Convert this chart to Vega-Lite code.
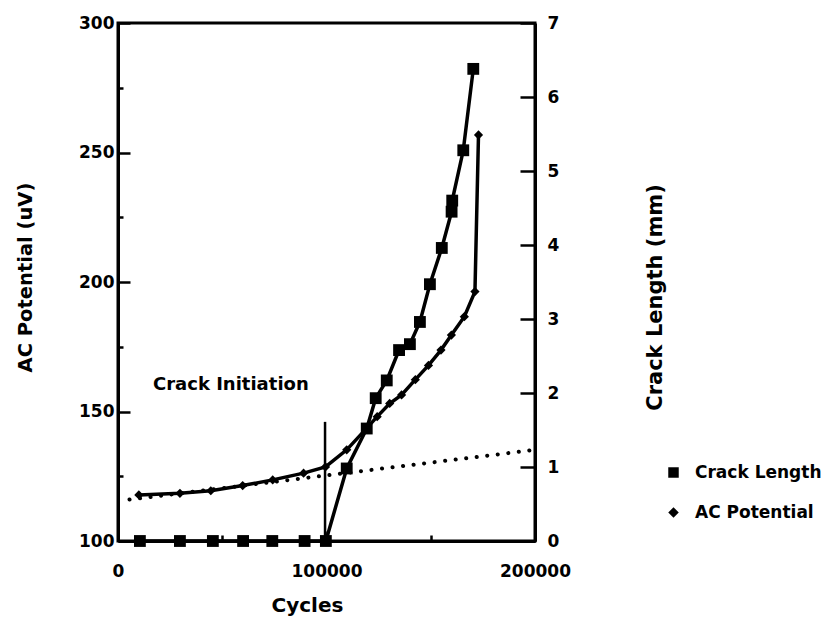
{
  "$schema": "https://vega.github.io/schema/vega-lite/v6.json",
  "width": 417,
  "height": 518,
  "autosize": {"type": "none"},
  "padding": {"left": 118, "top": 23, "right": 303, "bottom": 77},
  "background": "white",
  "config": {
    "view": {"stroke": "black", "strokeWidth": 3},
    "font": "DejaVu Sans",
    "axis": {
      "grid": false,
      "domainColor": "black",
      "domainWidth": 3,
      "tickColor": "black",
      "tickWidth": 2.5,
      "labelFont": "DejaVu Sans",
      "labelFontWeight": "bold",
      "labelFontSize": 17,
      "labelColor": "black",
      "titleFont": "DejaVu Sans",
      "titleFontWeight": "bold",
      "titleColor": "black"
    },
    "legend": {
      "labelFont": "DejaVu Sans",
      "labelFontWeight": "bold",
      "labelFontSize": 17,
      "labelColor": "black"
    }
  },
  "datasets": {
    "ac": [
      {"cycles": 10000, "v": 117.8, "series": "AC Potential"},
      {"cycles": 29700, "v": 118.4, "series": "AC Potential"},
      {"cycles": 44500, "v": 119.4, "series": "AC Potential"},
      {"cycles": 59800, "v": 121.4, "series": "AC Potential"},
      {"cycles": 74200, "v": 123.6, "series": "AC Potential"},
      {"cycles": 89000, "v": 126.2, "series": "AC Potential"},
      {"cycles": 99500, "v": 128.6, "series": "AC Potential"},
      {"cycles": 109700, "v": 135.2, "series": "AC Potential"},
      {"cycles": 119300, "v": 143.6, "series": "AC Potential"},
      {"cycles": 124300, "v": 148.0, "series": "AC Potential"},
      {"cycles": 130300, "v": 153.1, "series": "AC Potential"},
      {"cycles": 136000, "v": 156.4, "series": "AC Potential"},
      {"cycles": 142600, "v": 162.3, "series": "AC Potential"},
      {"cycles": 148900, "v": 167.8, "series": "AC Potential"},
      {"cycles": 154900, "v": 173.7, "series": "AC Potential"},
      {"cycles": 159900, "v": 179.5, "series": "AC Potential"},
      {"cycles": 166100, "v": 186.6, "series": "AC Potential"},
      {"cycles": 171200, "v": 196.3, "series": "AC Potential"},
      {"cycles": 172900, "v": 256.8, "series": "AC Potential"}
    ],
    "crack": [
      {"cycles": 10500, "len": 0, "series": "Crack Length"},
      {"cycles": 29700, "len": 0, "series": "Crack Length"},
      {"cycles": 45500, "len": 0, "series": "Crack Length"},
      {"cycles": 60000, "len": 0, "series": "Crack Length"},
      {"cycles": 74000, "len": 0, "series": "Crack Length"},
      {"cycles": 89500, "len": 0, "series": "Crack Length"},
      {"cycles": 99700, "len": 0, "series": "Crack Length"},
      {"cycles": 109700, "len": 0.98, "series": "Crack Length"},
      {"cycles": 119300, "len": 1.52, "series": "Crack Length"},
      {"cycles": 123600, "len": 1.93, "series": "Crack Length"},
      {"cycles": 128900, "len": 2.17, "series": "Crack Length"},
      {"cycles": 134800, "len": 2.58, "series": "Crack Length"},
      {"cycles": 140000, "len": 2.66, "series": "Crack Length"},
      {"cycles": 144800, "len": 2.96, "series": "Crack Length"},
      {"cycles": 149600, "len": 3.47, "series": "Crack Length"},
      {"cycles": 155300, "len": 3.96, "series": "Crack Length"},
      {"cycles": 160000, "len": 4.45, "series": "Crack Length"},
      {"cycles": 160300, "len": 4.6, "series": "Crack Length"},
      {"cycles": 165600, "len": 5.28, "series": "Crack Length"},
      {"cycles": 170400, "len": 6.38, "series": "Crack Length"}
    ],
    "trend": [
      {"cycles": 5500, "v": 116.0},
      {"cycles": 200000, "v": 135.2}
    ],
    "init": [
      {"cycles": 99300, "v": 100, "v2": 146}
    ],
    "note": [
      {"cycles": 16800, "v": 160.2, "text": "Crack Initiation"}
    ]
  },
  "layer": [
    {
      "layer": [
        {
          "data": {"name": "trend"},
          "mark": {"type": "line", "color": "black", "strokeWidth": 4, "strokeDash": [0.1, 10.5], "strokeCap": "round"},
          "encoding": {
            "x": {"field": "cycles", "type": "quantitative"},
            "y": {"field": "v", "type": "quantitative"}
          }
        },
        {
          "data": {"name": "init"},
          "mark": {"type": "rule", "color": "black", "strokeWidth": 2.5},
          "encoding": {
            "x": {"field": "cycles", "type": "quantitative"},
            "y": {"field": "v", "type": "quantitative"},
            "y2": {"field": "v2"}
          }
        },
        {
          "data": {"name": "note"},
          "mark": {"type": "text", "font": "DejaVu Sans", "fontWeight": "bold", "fontSize": 18, "align": "left", "baseline": "middle", "color": "black"},
          "encoding": {
            "x": {"field": "cycles", "type": "quantitative"},
            "y": {"field": "v", "type": "quantitative"},
            "text": {"field": "text"}
          }
        },
        {
          "data": {"name": "ac"},
          "mark": {"type": "line", "color": "black", "strokeWidth": 3.5},
          "encoding": {
            "x": {"field": "cycles", "type": "quantitative"},
            "y": {"field": "v", "type": "quantitative"}
          }
        },
        {
          "data": {"name": "ac"},
          "mark": {"type": "point", "filled": true, "color": "black", "opacity": 1, "size": 85},
          "encoding": {
            "x": {"field": "cycles", "type": "quantitative"},
            "y": {"field": "v", "type": "quantitative"},
            "shape": {
              "field": "series", "type": "nominal",
              "scale": {"domain": ["Crack Length", "AC Potential"], "range": ["square", "diamond"]},
              "legend": {
                "title": null,
                "orient": "none",
                "legendX": 547,
                "legendY": 441,
                "padding": 0,
                "symbolSize": 110,
                "labelOffset": 13,
                "rowPadding": 22,
                "encode": {
                  "symbols": {"update": {"fill": {"value": "black"}, "stroke": {"value": "black"}, "fillOpacity": {"value": 1}, "opacity": {"value": 1}}}
                }
              }
            }
          }
        }
      ],
      "encoding": {
        "x": {
          "field": "cycles", "type": "quantitative",
          "scale": {"domain": [0, 200000], "nice": false, "zero": false},
          "axis": {
            "title": "Cycles",
            "titleFontSize": 20,
            "titleX": 189,
            "titleY": 64,
            "titleBaseline": "middle",
            "values": [0, 50000, 100000, 150000, 200000],
            "format": "d",
            "labelExpr": "datum.value % 100000 === 0 ? datum.label : ''",
            "tickSize": {"condition": {"test": "datum.value % 100000 === 0", "value": -10}, "value": -6},
            "labelPadding": 32,
            "labelFlush": false,
            "labelOverlap": false
          }
        },
        "y": {
          "field": "v", "type": "quantitative",
          "scale": {"domain": [100, 300], "nice": false, "zero": false},
          "axis": {
            "title": "AC Potential (uV)",
            "titleFontSize": 19.5,
            "titleX": -93,
            "titleY": 254,
            "titleAngle": -90,
            "titleAlign": "center",
            "titleBaseline": "middle",
            "values": [100, 125, 150, 175, 200, 225, 250, 275, 300],
            "labelExpr": "datum.value % 50 === 0 ? datum.label : ''",
            "tickSize": {"condition": {"test": "datum.value % 50 === 0", "value": -12}, "value": -5},
            "labelPadding": 16,
            "labelOverlap": false,
            "labelFlush": false
          }
        }
      }
    },
    {
      "layer": [
        {
          "data": {"name": "crack"},
          "mark": {"type": "line", "color": "black", "strokeWidth": 3.5},
          "encoding": {
            "x": {"field": "cycles", "type": "quantitative"},
            "y": {"field": "len", "type": "quantitative"}
          }
        },
        {
          "data": {"name": "crack"},
          "mark": {"type": "point", "filled": true, "color": "black", "opacity": 1, "size": 140},
          "encoding": {
            "x": {"field": "cycles", "type": "quantitative"},
            "y": {"field": "len", "type": "quantitative"},
            "shape": {"field": "series", "type": "nominal"}
          }
        }
      ],
      "encoding": {
        "x": {
          "field": "cycles", "type": "quantitative",
          "axis": {
            "title": "Cycles",
            "titleFontSize": 20,
            "titleX": 189,
            "titleY": 64,
            "titleBaseline": "middle",
            "values": [0, 50000, 100000, 150000, 200000],
            "format": "d",
            "labelExpr": "datum.value % 100000 === 0 ? datum.label : ''",
            "tickSize": {"condition": {"test": "datum.value % 100000 === 0", "value": -10}, "value": -6},
            "labelPadding": 32,
            "labelFlush": false,
            "labelOverlap": false
          }
        },
        "y": {
          "field": "len", "type": "quantitative",
          "scale": {"domain": [0, 7], "nice": false},
          "axis": {
            "orient": "right",
            "title": "Crack Length (mm)",
            "titleFontSize": 21,
            "titleAngle": -90,
            "titleX": 120,
            "titleY": 274,
            "titleAlign": "center",
            "titleBaseline": "middle",
            "values": [0, 0.5, 1, 1.5, 2, 2.5, 3, 3.5, 4, 4.5, 5, 5.5, 6, 6.5, 7],
            "format": "d",
            "labelExpr": "datum.value % 1 === 0 ? datum.label : ''",
            "tickSize": {"condition": {"test": "datum.value % 1 === 0", "value": -15}, "value": -8},
            "labelPadding": 27,
            "labelOverlap": false,
            "labelFlush": false
          }
        }
      }
    }
  ],
  "resolve": {"scale": {"y": "independent"}}
}
